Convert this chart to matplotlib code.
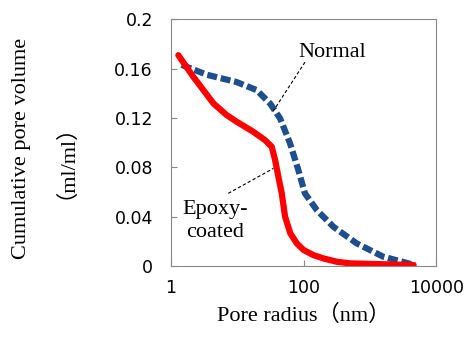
import numpy as np
import matplotlib.pyplot as plt

# pore radius (nm) and cumulative pore volume (ml/ml)
normal_r = [1.45, 3.45, 9.8, 19.6, 31.2, 44.2, 62.5, 83.4, 104.7, 158.5, 281.8, 631.0, 1585, 4786]
normal_v = [0.163, 0.155, 0.149, 0.1425, 0.1317, 0.1196, 0.0993, 0.0777, 0.0589, 0.0453, 0.0318, 0.0184, 0.0076, 0.0008]

epoxy_r = [1.29, 2.17, 4.37, 6.92, 9.8, 17.4, 26.2, 33.1, 37.2, 41.7, 46.8, 52.6, 63.1, 78.9,
           100, 140.6, 199.5, 316, 501, 4571]
epoxy_v = [0.1708, 0.1533, 0.1317, 0.1223, 0.1169, 0.1088, 0.102, 0.0966, 0.0858, 0.0723, 0.0589,
           0.0399, 0.0265, 0.0184, 0.013, 0.0089, 0.0062, 0.0035, 0.0022, 0.0008]

yticks = [0, 0.04, 0.08, 0.12, 0.16, 0.2]
ytick_labels = ['0', '0.04', '0.08', '0.12', '0.16', '0.2']
xticks = [1, 100, 10000]
xtick_labels = ['1', '100', '10000']

serif = ['Liberation Serif', 'Noto Sans CJK JP']

fig = plt.figure(figsize=(4.66, 3.42), dpi=100)
ax = fig.add_axes([0.367, 0.222, 0.569, 0.722])

ax.plot(normal_r, normal_v, color='#1F4E8C', lw=4.5, ls=(0, (1.6, 0.6)))
ax.plot(epoxy_r, epoxy_v, color='#FF0000', lw=4.5, solid_capstyle='round', solid_joinstyle='round')

ax.set_xscale('log')
ax.set_xlim(1, 10000)
ax.set_ylim(0, 0.2)
ax.set_xticks(xticks)
ax.set_xticklabels(xtick_labels)
ax.minorticks_off()
ax.set_yticks(yticks)
ax.set_yticklabels(ytick_labels)
ax.tick_params(direction='in', length=4, color='#888888', labelsize=12.5, pad=13)
ax.tick_params(axis='x', pad=9)
for s in ax.spines.values():
    s.set_color('#888888')

# annotations with dashed leader lines
ax.plot([105, 33], [0.1652, 0.1236], color='black', lw=0.8, ls=(0, (3, 2)))
ax.text(270, 0.173, 'Normal', family=serif, fontsize=16, ha='center', va='center')
ax.plot([7.3, 35], [0.0589, 0.0791], color='black', lw=0.8, ls=(0, (3, 2)))
ax.text(4.6, 0.0365, 'Epoxy-\ncoated', family=serif, fontsize=16, ha='center', va='center', linespacing=1.25)

ax.set_xlabel('Pore radius（nm）', family=serif, fontsize=16, labelpad=6)
fig.text(22 / 466, 0.567, 'Cumulative pore volume', family=serif, fontsize=16,
         rotation=90, ha='center', va='center')
fig.text(55 / 466, 0.56, '（ml/ml）', family=serif, fontsize=16,
         rotation=90, ha='center', va='center')

fig.savefig('out.png', dpi=100)
